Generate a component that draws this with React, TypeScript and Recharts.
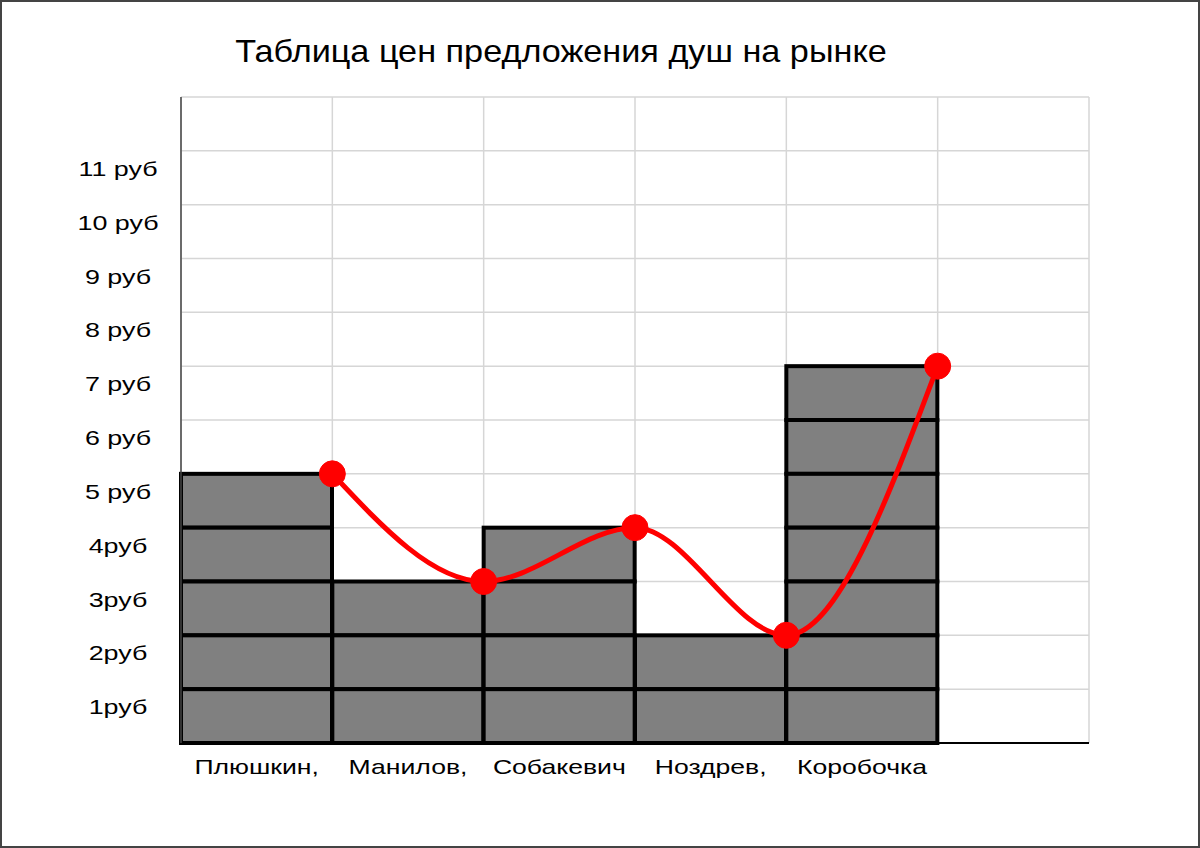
import React from 'react';
import {
  ComposedChart,
  Bar,
  Line,
  XAxis,
  YAxis,
  CartesianGrid,
} from 'recharts';

// ---- data ----
const sellers: string[] = ['Плюшкин,', 'Манилов,', 'Собакевич', 'Ноздрев,', 'Коробочка'];
const prices: number[] = [5, 3, 4, 2, 7];
const yTickValues: number[] = [0, 1, 2, 3, 4, 5, 6, 7, 8, 9, 10, 11, 12];
const yTickLabels: string[] = ['', '1руб', '2руб', '3руб', '4руб', '5 руб', '6 руб', '7 руб', '8 руб', '9 руб', '10 руб', '11 руб', ''];
const columnEdges: number[] = [0, 1, 2, 3, 4, 5, 6];
const title = 'Таблица цен предложения душ на рынке';

// table for the library: one row per seller plus an empty trailing column
const chartData = [
  ...sellers.map((name, i) => ({ name, price: prices[i], edge: i + 1 })),
  { name: '', price: null as number | null, edge: sellers.length + 1 },
];

const FONT = '"Liberation Sans", Arial, sans-serif';

const BlockBar = (props: any) => {
  const { x, y, width, height, payload } = props;
  const v = payload && payload.price;
  if (!v || !height) return null;
  const unit = height / v;
  const cells = [];
  for (let k = 0; k < v; k++) {
    cells.push(
      <rect
        key={k}
        x={x}
        y={y + k * unit}
        width={width}
        height={unit}
        fill="#808080"
        stroke="#000"
        strokeWidth={4}
      />
    );
  }
  return <g>{cells}</g>;
};

const YTick = (props: any) => {
  const { x, y, payload } = props;
  const idx = yTickValues.indexOf(payload.value);
  const label = idx >= 0 ? yTickLabels[idx] : '';
  if (!label) return null;
  return (
    <text
      transform={`translate(${x - 63},${y + 25}) scale(1.28,1)`}
      textAnchor="middle"
      fontFamily={FONT}
      fontSize={21}
      fill="#000"
    >
      {label}
    </text>
  );
};

const XTick = (props: any) => {
  const { x, y, payload } = props;
  if (!payload.value) return null;
  return (
    <text
      transform={`translate(${x},${y + 31}) scale(1.33,1)`}
      textAnchor="middle"
      fontFamily={FONT}
      fontSize={20}
      fill="#000"
    >
      {payload.value}
    </text>
  );
};

export default function App() {
  return (
    <div
      style={{
        position: 'absolute',
        left: 0,
        top: 0,
        width: 1200,
        height: 848,
        background: '#fff',
        overflow: 'hidden',
      }}
    >
      <div style={{ position: 'absolute', left: 0, top: 0 }}>
        <ComposedChart
          width={1200}
          height={848}
          data={chartData}
          margin={{ top: 97, right: 111, bottom: 0, left: 0 }}
          barCategoryGap={0}
          barGap={0}
        >
          <CartesianGrid xAxisId="n" stroke="#d6d6d6" strokeWidth={1.5} />
          <XAxis
            xAxisId="cat"
            dataKey="name"
            type="category"
            tickLine={false}
            tickSize={0}
            tickMargin={0}
            axisLine={{ stroke: '#000', strokeWidth: 2 }}
            tick={<XTick />}
            interval={0}
            height={105}
          />
          <XAxis
            xAxisId="n"
            dataKey="edge"
            type="number"
            domain={[0, 6]}
            ticks={columnEdges}
            hide
          />
          <YAxis
            type="number"
            domain={[0, 12]}
            ticks={yTickValues}
            interval={0}
            width={181}
            tickLine={false}
            tickSize={0}
            tickMargin={0}
            axisLine={{ stroke: '#444', strokeWidth: 1.5 }}
            tick={<YTick />}
          />
          <Bar
            xAxisId="cat"
            dataKey="price"
            isAnimationActive={false}
            shape={<BlockBar />}
          />
          <Line
            xAxisId="n"
            dataKey="price"
            type="monotone"
            stroke="#ff0000"
            strokeWidth={5}
            dot={{ r: 13, fill: '#ff0000', stroke: '#ff0000', strokeWidth: 1 }}
            activeDot={false}
            isAnimationActive={false}
          />
        </ComposedChart>
      </div>
      <svg
        width={1200}
        height={848}
        style={{ position: 'absolute', left: 0, top: 0, pointerEvents: 'none' }}
      >
        <text
          transform="translate(561,62) scale(1.07,1)"
          textAnchor="middle"
          fontFamily={FONT}
          fontSize={32}
          fill="#000"
        >
          {title}
        </text>
      </svg>
      <div
        style={{
          position: 'absolute',
          left: 0,
          top: 0,
          width: 1200,
          height: 848,
          boxSizing: 'border-box',
          border: '2px solid #444',
          pointerEvents: 'none',
        }}
      />
    </div>
  );
}
